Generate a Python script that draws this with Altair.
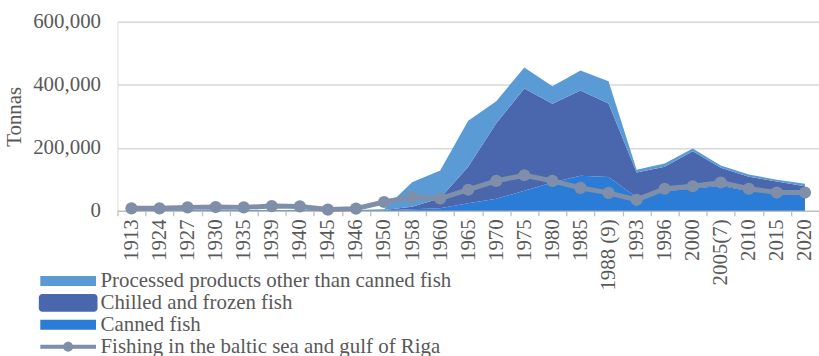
import altair as alt
import pandas as pd

years = ["1913", "1924", "1927", "1930", "1935", "1939", "1940", "1945", "1946",
         "1950", "1958", "1960", "1965", "1970", "1975", "1980", "1985", "1988 (9)",
         "1993", "1996", "2000", "2005(7)", "2010", "2015", "2020"]

# thousand tonnes
canned = [2, 2, 2, 2, 2, 2, 2, 2, 2, 2, 5, 8, 24, 38, 64, 90, 111, 107,
          43, 62, 70, 80, 62, 56, 50]
chilled = [1, 1, 1, 1, 1, 1, 1, 1, 1, 1, 8, 32, 116, 240, 324, 250, 271, 234,
           79, 78, 119, 57, 46, 37, 28]
processed = [0, 0, 0, 0, 0, 0, 0, 0, 0, 2, 78, 88, 146, 70, 67, 55, 63, 70,
             8, 10, 9, 7, 7, 6, 8]
fishing = [8, 8, 11, 12, 11, 15, 14, 4, 7, 28, 44, 39, 67, 95, 113, 95, 73, 57,
           35, 70, 78, 90, 70, 58, 58]

area_names = ["Processed products other than canned fish", "Chilled and frozen fish", "Canned fish"]
area_colors = ["#5B9BD5", "#4A66AC", "#2B7CD6"]
line_name = "Fishing in the baltic sea and gulf of Riga"
line_color = "#7F8FA9"

FONT = "Liberation Serif"
TXT = "#595959"

rows = []
for i, y in enumerate(years):
    rows.append({"year": y, "series": "Canned fish", "value": canned[i] * 1000, "ord": 0})
    rows.append({"year": y, "series": "Chilled and frozen fish", "value": chilled[i] * 1000, "ord": 1})
    rows.append({"year": y, "series": "Processed products other than canned fish",
                 "value": processed[i] * 1000, "ord": 2})
area_df = pd.DataFrame(rows)
line_df = pd.DataFrame({"year": years, "series": line_name, "value": [v * 1000 for v in fishing]})

xscale = alt.Scale(type="band", paddingInner=0, paddingOuter=0)
x_axis = alt.Axis(title=None, labelAngle=-90, labelFont=FONT, labelFontSize=21, labelColor=TXT,
                  labelPadding=3, labelOverlap=False, tickBand="extent", tickSize=5,
                  tickColor="#BFBFBF", tickWidth=1.3, domainColor="#BFBFBF", domainWidth=1.3,
                  grid=False)
yscale = alt.Scale(domain=[0, 600000], nice=False)
y_axis = alt.Axis(values=[0, 200000, 400000, 600000], format=",.0f", title="Tonnas",
                  labelFont=FONT, labelFontSize=21, labelColor=TXT, ticks=False, tickSize=0,
                  labelPadding=17, domain=False, gridColor="#D9D9D9", gridWidth=1.5,
                  titleFont=FONT, titleFontSize=21, titleColor=TXT, titleFontWeight="normal",
                  titleX=-103, titleY=95, titleAngle=-90, titleBaseline="middle", titleAlign="center")

rect_path = "M-2.8,-0.5L2.8,-0.5L2.8,0.5L-2.8,0.5Z"
round_path = ("M-2.6,-0.9L2.6,-0.9A0.35,0.35,0,0,1,2.95,-0.55L2.95,0.55A0.35,0.35,0,0,1,2.6,0.9"
              "L-2.6,0.9A0.35,0.35,0,0,1,-2.95,0.55L-2.95,-0.55A0.35,0.35,0,0,1,-2.6,-0.9Z")
line_path = ("M-2.8,-0.2L2.8,-0.2L2.8,0.2L-2.8,0.2Z "
             "M-0.5,0A0.5,0.5,0,1,1,0.5,0A0.5,0.5,0,1,1,-0.5,0Z")
shape_expr = "datum.value === 'Chilled and frozen fish' ? '%s' : '%s'" % (round_path, rect_path)

areas = alt.Chart(area_df).mark_area(opacity=1).encode(
    x=alt.X("year:N", sort=years, bandPosition=0.5, scale=xscale, axis=x_axis),
    y=alt.Y("value:Q", stack="zero", scale=yscale, axis=y_axis),
    color=alt.Color("series:N", scale=alt.Scale(domain=area_names, range=area_colors),
                    legend=alt.Legend(title=None, orient="none", legendX=-60, legendY=250,
                                      symbolType={"expr": shape_expr}, symbolSize=400,
                                      symbolStrokeWidth=0,
                                      labelFont=FONT, labelFontSize=21, labelColor=TXT,
                                      labelOffset=22, labelLimit=600, rowPadding=0, padding=0)),
    order=alt.Order("ord:Q", sort="ascending"),
)

line = alt.Chart(line_df).mark_line(strokeWidth=5, color=line_color).encode(
    x=alt.X("year:N", sort=years, bandPosition=0.5, scale=xscale, axis=x_axis),
    y=alt.Y("value:Q", stack=None, scale=yscale),
)

points = alt.Chart(line_df).mark_circle(size=150, opacity=1).encode(
    x=alt.X("year:N", sort=years, bandPosition=0.5, scale=xscale, axis=x_axis),
    y=alt.Y("value:Q", stack=None, scale=yscale),
    fill=alt.Fill("series:N", scale=alt.Scale(domain=[line_name], range=[line_color]),
                  legend=alt.Legend(title=None, orient="none", legendX=-60, legendY=316,
                                    symbolType=line_path, symbolSize=400, symbolStrokeWidth=0,
                                    labelFont=FONT, labelFontSize=21, labelColor=TXT,
                                    labelOffset=22, labelLimit=600, padding=0)),
)

chart = alt.layer(areas, line, points).resolve_scale(color="independent", fill="independent").properties(
    width=705, height=190,
    autosize=alt.AutoSizeParams(type="none"),
    padding={"left": 118, "top": 21, "right": 0, "bottom": 145},
).configure_view(stroke=None).configure(font=FONT)

chart.save("out.html", embed_options={"renderer": "svg", "actions": False})
